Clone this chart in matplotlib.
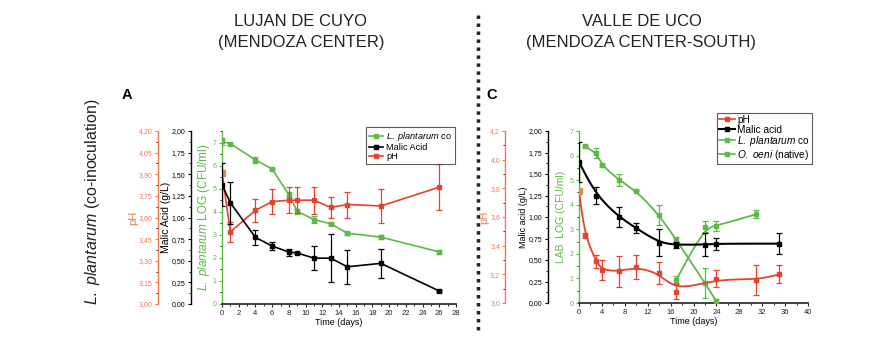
import numpy as np
import matplotlib
matplotlib.use("Agg")
import matplotlib.pyplot as plt
from matplotlib.ticker import FixedLocator, FuncFormatter, AutoMinorLocator
from matplotlib.lines import Line2D

plt.rcParams['font.family'] = ['Liberation Sans', 'DejaVu Sans']
plt.rcParams['mathtext.fontset'] = 'custom'
plt.rcParams['mathtext.rm'] = 'Liberation Sans'
plt.rcParams['mathtext.it'] = 'Liberation Sans:italic'

GREEN = '#5cb947'
RED = '#e8412c'
ORANGE = '#ee7a52'
PH0 = '#e08a4a'

# ---------------- Panel A data (Lujan de Cuyo) ----------------
a_lp_days = [0, 1, 4, 6, 8, 9, 11, 13, 15, 19, 26]
a_lp_log = [7.05, 6.95, 6.25, 5.85, 4.74, 4.02, 3.66, 3.48, 3.07, 2.90, 2.26]
a_lp_err = [0.15, 0.05, 0.12, 0.05, 0.12, 0.10, 0.15, 0.06, 0.06, 0.10, 0.08]

a_mal_days = [0, 1, 4, 6, 8, 9, 11, 13, 15, 19, 26]
a_mal = [1.38, 1.17, 0.77, 0.67, 0.60, 0.59, 0.53, 0.53, 0.43, 0.47, 0.15]
a_mal_err = [0.25, 0.24, 0.09, 0.045, 0.04, 0.01, 0.135, 0.28, 0.20, 0.17, 0.01]

a_ph_days = [0, 1, 4, 6, 8, 9, 11, 13, 15, 19, 26]
a_ph = [3.91, 3.50, 3.65, 3.71, 3.72, 3.72, 3.72, 3.67, 3.69, 3.68, 3.81]
a_ph_err = [0.01, 0.072, 0.08, 0.088, 0.09, 0.09, 0.094, 0.075, 0.09, 0.115, 0.16]

# ---------------- Panel C data (Valle de Uco) ----------------
c_ph_days = [0, 1, 3, 4, 7, 10, 14, 17, 24, 31, 35]
c_ph = [3.78, 3.47, 3.29, 3.23, 3.22, 3.25, 3.21, 3.08, 3.17, 3.16, 3.20]
c_ph_err = [0.01, 0.017, 0.043, 0.069, 0.11, 0.086, 0.077, 0.05, 0.06, 0.106, 0.063]

c_mal_days = [0, 3, 7, 10, 14, 17, 22, 24, 35]
c_mal = [1.64, 1.25, 1.00, 0.87, 0.70, 0.675, 0.68, 0.69, 0.69]
c_mal_err = [0.23, 0.10, 0.115, 0.057, 0.157, 0.03, 0.13, 0.07, 0.12]

c_lp_days = [1, 3, 4, 7, 10, 14, 17, 22, 24]
c_lp_log = [6.38, 6.12, 5.60, 5.00, 4.57, 3.58, 2.57, 0.81, 0.07]
c_lp_err = [0.03, 0.20, 0.05, 0.25, 0.03, 0.40, 0.10, 0.60, 0.10]

c_oe_days = [17, 22, 24, 31]
c_oe_log = [0.95, 3.10, 3.13, 3.62]
c_oe_err = [0.15, 0.22, 0.20, 0.15]

W, H = 892, 343
fig = plt.figure(figsize=(W / 100, H / 100), dpi=100)


def bspline(xs, ys, n=30):
    """Uniform cubic B-spline using the data points as control points (clamped ends)."""
    P = np.column_stack([xs, ys]).astype(float)
    P = np.vstack([P[:1], P[:1], P, P[-1:], P[-1:]])
    t = np.linspace(0, 1, n)
    M = np.array([(1 - t) ** 3, 3 * t ** 3 - 6 * t ** 2 + 4, -3 * t ** 3 + 3 * t ** 2 + 3 * t + 1, t ** 3]).T / 6.0
    out = [M @ P[i:i + 4] for i in range(len(P) - 3)]
    out = np.vstack(out)
    return out[:, 0], out[:, 1]


def comma_fmt(nd):
    return FuncFormatter(lambda v, p: (f"{v:.{nd}f}").replace('.', ','))


def make_panel(left_px, right_px, top_px, bot_px, ph_pos, mal_pos):
    ax = fig.add_axes([left_px / W, 1 - bot_px / H, (right_px - left_px) / W, (bot_px - top_px) / H])
    ax.patch.set_alpha(0)
    for s in ['top', 'right']:
        ax.spines[s].set_visible(False)
    ax.spines['left'].set_color(GREEN)
    ax.spines['bottom'].set_color('#222222')
    ax.spines['left'].set_linewidth(1.0)
    ax.spines['bottom'].set_linewidth(1.2)
    ax.tick_params(axis='y', colors=GREEN, labelsize=5, length=2.5, width=0.8, pad=1.5)
    ax.tick_params(axis='x', colors='#222222', labelsize=5.5, length=2.5, width=0.8, pad=1.5)
    ax.tick_params(axis='x', which='minor', length=1.5, width=0.6)

    axp = ax.twinx()
    axm = ax.twinx()
    for a, pos, col in [(axp, ph_pos, ORANGE), (axm, mal_pos, 'black')]:
        a.patch.set_alpha(0)
        for s in ['top', 'right', 'bottom']:
            a.spines[s].set_visible(False)
        a.spines['left'].set_visible(True)
        a.spines['left'].set_position(('axes', pos))
        a.spines['left'].set_color(col)
        a.spines['left'].set_linewidth(1.0)
        a.yaxis.set_ticks_position('left')
        a.yaxis.set_label_position('left')
        a.tick_params(axis='y', colors=col, labelsize=5, length=2.5, width=0.8, pad=1.5)
        a.tick_params(axis='y', which='minor', length=1.5, width=0.6)
        a.yaxis.set_minor_locator(AutoMinorLocator(2))
    ax.yaxis.set_minor_locator(AutoMinorLocator(2))
    ax.tick_params(axis='y', which='minor', length=1.5, width=0.6)
    ax.xaxis.set_minor_locator(AutoMinorLocator(2))
    return ax, axp, axm


def eb(a, x, y, e, color, lw=1.2, ms=3.2, z=3):
    a.errorbar(x, y, yerr=e, color=color, lw=lw, marker='s', ms=ms,
               elinewidth=0.9, capsize=2.2, capthick=0.9, zorder=z)


def ylab(a, text, size, color, px, left, width):
    a.set_ylabel(text, fontsize=size, color=color, va='center', ha='center')
    a.yaxis.set_label_coords((px - left) / width, 0.5)


# ---------------- Panel A ----------------
axA, axAp, axAm = make_panel(222, 456, 131, 304, (158 - 222) / 234, (191 - 222) / 234)
axA.set_xlim(0, 28)
axA.set_xticks(np.arange(0, 29, 2))
axA.set_ylim(0, 7.5)
axA.set_yticks(range(0, 8))
axAm.set_ylim(0, 2.0)
axAm.yaxis.set_major_locator(FixedLocator(np.arange(0, 2.01, 0.25)))
axAm.yaxis.set_major_formatter(comma_fmt(2))
axAp.set_ylim(3.0, 4.2)
axAp.yaxis.set_major_locator(FixedLocator(np.arange(3.0, 4.21, 0.15)))
axAp.yaxis.set_major_formatter(comma_fmt(2))

eb(axA, a_lp_days, a_lp_log, a_lp_err, GREEN)
eb(axAm, a_mal_days, a_mal, a_mal_err, 'black')
eb(axAp, a_ph_days, a_ph, a_ph_err, RED)
axAp.plot(a_ph_days[:1], a_ph[:1], 's', color=PH0, ms=4, zorder=4)

axA.set_xlabel('Time (days)', fontsize=6.5, labelpad=1)
ylab(axA, r'$\it{L.\ plantarum}$ LOG (CFU/ml)', 8.5, GREEN, 204, 222, 234)
ylab(axAm, 'Malic Acid (g/L)', 7.5, 'black', 166, 222, 234)
ylab(axAp, 'pH', 8, ORANGE, 133, 222, 234)

hA = [Line2D([], [], color=GREEN, marker='s', ms=2.5, lw=1.2),
      Line2D([], [], color='black', marker='s', ms=2.5, lw=1.2),
      Line2D([], [], color=RED, marker='s', ms=2.5, lw=1.2)]
legA = fig.legend(hA, [r'$\it{L.\ plantarum}$ co', 'Malic Acid', 'pH'], loc='upper left',
                  bbox_to_anchor=(366 / W, 1 - 127 / H), bbox_transform=fig.transFigure,
                  fontsize=6.6, frameon=True, fancybox=False, borderaxespad=0, handlelength=1.6,
                  handletextpad=0.3, labelspacing=0.0, borderpad=0.3)
legA.get_frame().set_edgecolor('#333333')
legA.get_frame().set_linewidth(0.8)

# ---------------- Panel C ----------------
axC, axCp, axCm = make_panel(579, 808, 131, 303, (505 - 579) / 229, (548 - 579) / 229)
axC.set_xlim(0, 40)
axC.set_xticks(np.arange(0, 41, 4))
axC.set_ylim(0, 7)
axC.set_yticks(range(0, 8))
axCm.set_ylim(0, 2.0)
axCm.yaxis.set_major_locator(FixedLocator(np.arange(0, 2.01, 0.25)))
axCm.yaxis.set_major_formatter(comma_fmt(2))
axCp.set_ylim(3.0, 4.2)
axCp.yaxis.set_major_locator(FixedLocator(np.arange(3.0, 4.21, 0.2)))
axCp.yaxis.set_major_formatter(comma_fmt(1))
axCp.tick_params(axis='y', pad=1.0)


def spline_series(a, x, y, e, color, lw=1.3, z=3):
    sx, sy = bspline(x, y)
    a.plot(sx, sy, color=color, lw=lw, zorder=z)
    a.errorbar(x, y, yerr=e, fmt='s', color=color, ms=3.2, elinewidth=0.9, capsize=2.2,
               capthick=0.9, zorder=z)


spline_series(axC, c_lp_days, c_lp_log, c_lp_err, GREEN)
spline_series(axC, c_oe_days, c_oe_log, c_oe_err, GREEN)
spline_series(axCm, c_mal_days, c_mal, c_mal_err, 'black', lw=1.5)
spline_series(axCp, c_ph_days, c_ph, c_ph_err, RED)
axCp.plot(c_ph_days[:1], c_ph[:1], 's', color=PH0, ms=4, zorder=4)

axC.set_xlabel('Time (days)', fontsize=6.5, labelpad=1)
ylab(axC, 'LAB  LOG (CFU/ml)', 7.5, GREEN, 561, 579, 229)
ylab(axCm, 'Malic acid (g/L)', 6.5, 'black', 523, 579, 229)
ylab(axCp, 'pH', 7.5, ORANGE, 484, 579, 229)

hC = [Line2D([], [], color=RED, marker='s', ms=2.5, lw=1.2),
      Line2D([], [], color='black', marker='s', ms=2.5, lw=1.5),
      Line2D([], [], color=GREEN, marker='s', ms=2.5, lw=1.2),
      Line2D([], [], color=GREEN, marker='s', ms=2.5, lw=1.2)]
legC = fig.legend(hC, ['pH', 'Malic acid', r'$\it{L.\ plantarum}$ co', r'$\it{O.\ oeni}$ (native)'],
                  loc='upper left', bbox_to_anchor=(717 / W, 1 - 113 / H), bbox_transform=fig.transFigure,
                  fontsize=7.3, frameon=True, fancybox=False, borderaxespad=0, handlelength=1.6,
                  handletextpad=0.2, labelspacing=-0.05, borderpad=0.2)
legC.get_frame().set_edgecolor('#333333')
legC.get_frame().set_linewidth(0.8)

# ---------------- Titles / annotations ----------------
TC = '#222222'
fig.text(300 / W, 1 - 21.5 / H, 'LUJAN DE CUYO', ha='center', va='center', fontsize=12, color=TC)
fig.text(301 / W, 1 - 42.5 / H, '(MENDOZA CENTER)', ha='center', va='center', fontsize=12, color=TC)
fig.text(642 / W, 1 - 21.5 / H, 'VALLE DE UCO', ha='center', va='center', fontsize=12, color=TC)
fig.text(641 / W, 1 - 42.5 / H, '(MENDOZA CENTER-SOUTH)', ha='center', va='center', fontsize=12, color=TC)
fig.text(127 / W, 1 - 95 / H, 'A', ha='center', va='center', fontsize=10.5, fontweight='bold')
fig.text(492 / W, 1 - 95 / H, 'C', ha='center', va='center', fontsize=10.5, fontweight='bold')
fig.text(92 / W, 1 - 202 / H, r'$\it{L.\ plantarum}$ (co-inoculation)', rotation=90, ha='center', va='center',
         fontsize=11.5, color=TC)

fig.add_artist(Line2D([478 / W, 478 / W], [1 - 15 / H, 1 - 330 / H], transform=fig.transFigure,
                      color=TC, lw=2.5, linestyle=(0, (1, 1.3))))

fig.savefig('out.png', dpi=100)
